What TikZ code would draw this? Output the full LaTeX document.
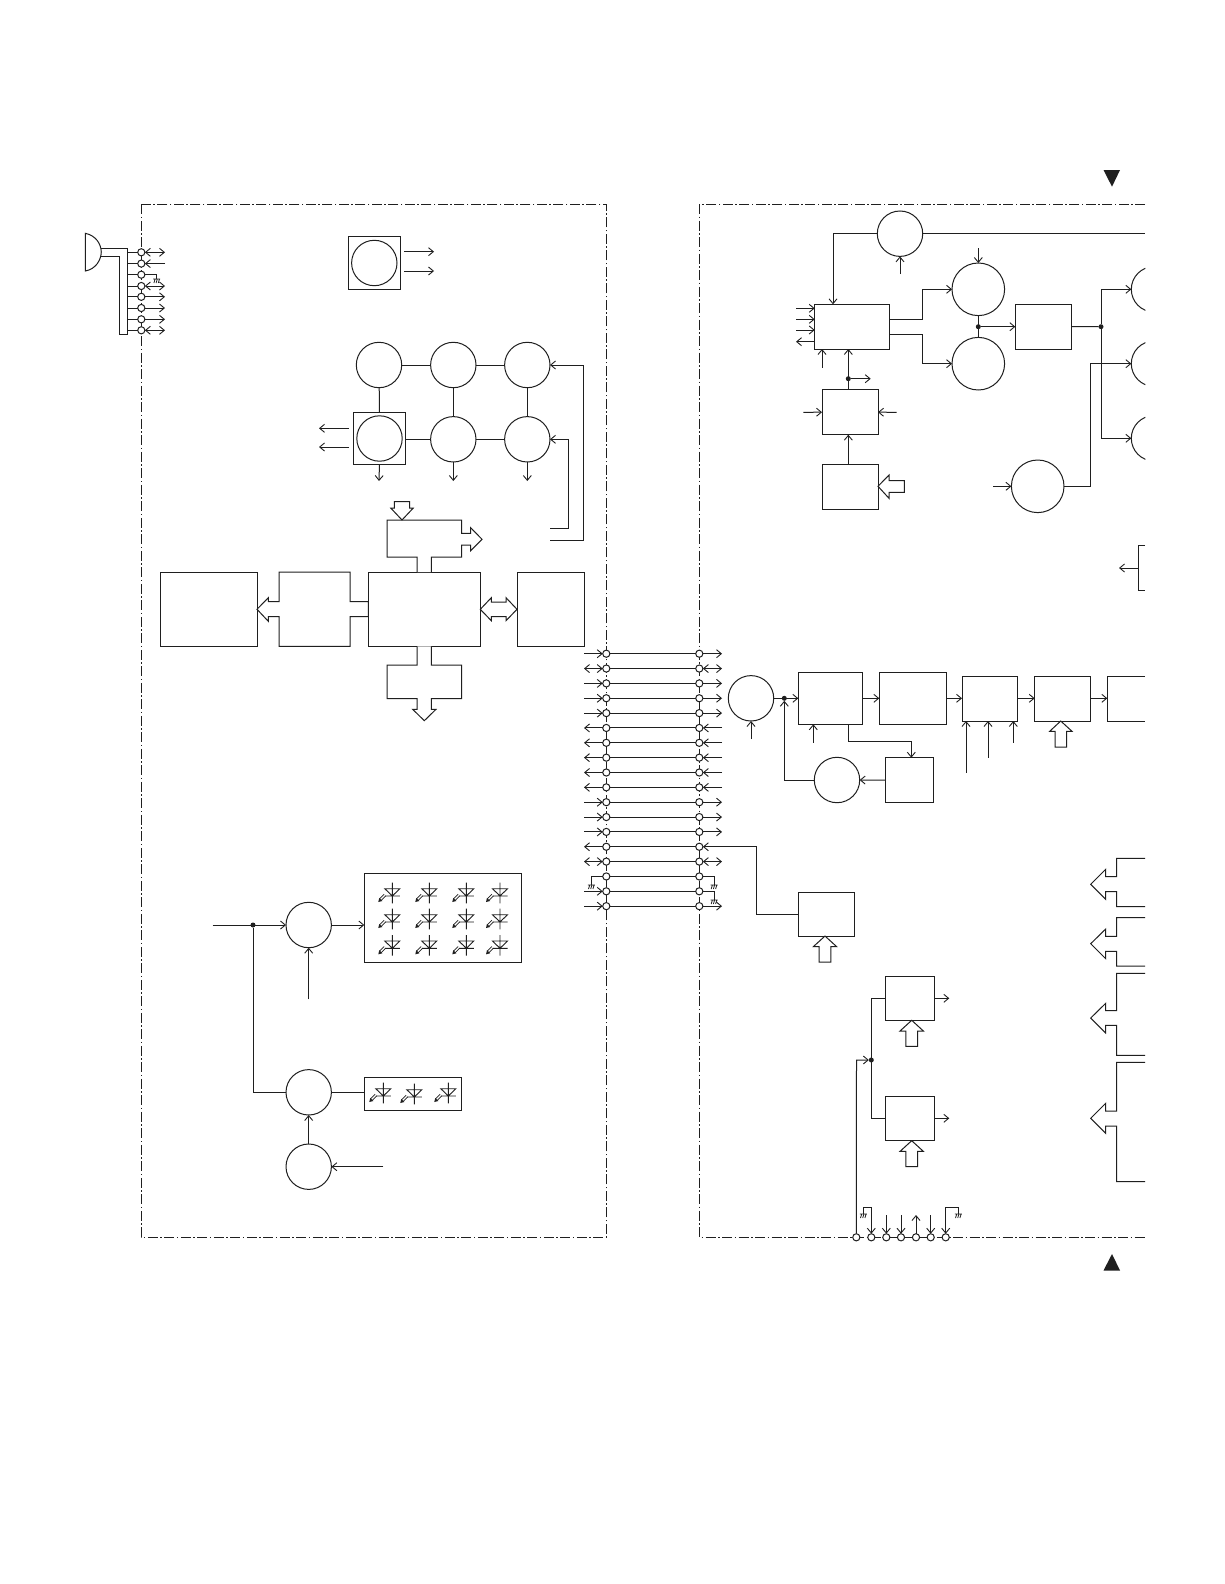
\documentclass[tikz,border=0pt]{standalone}
\usetikzlibrary{arrows.meta}
\definecolor{ink}{gray}{0.12}
\tikzset{
  >={Straight Barb[length=4.8pt,width=8pt,line width=.9pt]},
  circ/.style={circle,draw=ink,fill=white,inner sep=0pt,outer sep=0pt,minimum size=45.4pt},
  bigcirc/.style={circ,minimum size=52.6pt},
  boxs/.style={rectangle,draw=ink,fill=white,inner sep=0pt,outer sep=0pt},
  pin/.style={circle,draw=ink,fill=white,inner sep=0pt,outer sep=0pt,minimum size=7.2pt},
  jdot/.style={circle,fill=ink,draw=none,inner sep=0pt,outer sep=0pt,minimum size=5pt},
  framedash/.style={dash pattern=on 10pt off 2.5pt on 1.5pt off 2.5pt,line width=.9pt},
  blockarrow/.style={draw=ink,fill=white,line join=miter},
}
\newcommand{\bx}[5]{\node[boxs,minimum width={(#4-#2)*1pt},minimum height={(#5-#3)*1pt}] (#1) at ({(#2+#4)/2},{(#3+#5)/2}) {};}
\newcommand{\gnd}[2]{\draw[line width=.8pt] (#1-3.5,#2) -- (#1+3.5,#2) (#1-2.8,#2+4) -- (#1-1.6,#2) (#1-.6,#2+4) -- (#1+.6,#2) (#1+1.6,#2+4) -- (#1+2.8,#2);}
\newcommand{\led}[2]{%
  \draw[line width=.9pt] (#1,#2-13.3) -- (#1,#2+7.3) (#1-7.5,#2) -- (#1+7.5,#2)
    (#1-7.5,#2-7.3) -- (#1+7.5,#2-7.3) -- (#1,#2) -- cycle;
  \draw[line width=.7pt] (#1-6.5,#2-.2) -- (#1-11,#2+4.3) (#1-8.1,#2-1.8) -- (#1-12.6,#2+2.7);
  \fill[ink] (#1-14,#2+6) -- (#1-9.9,#2+5) -- (#1-13,#2+1.9) -- cycle;}
\newcommand{\blockup}[2]{%
  \draw[blockarrow] (#1,#2) -- (#1+11.7,#2+10.7) -- (#1+5.9,#2+10.7) -- (#1+5.9,#2+26) -- (#1-5.9,#2+26) -- (#1-5.9,#2+10.7) -- (#1-11.7,#2+10.7) -- cycle;}
\newcommand{\pinbrace}[7]{%
  \draw (1145,#1) -- (1116.7,#1) -- (1116.7,#2) -- (1105.7,#2) -- (1105.7,#3) -- (1090.7,#4) -- (1105.7,#5) -- (1105.7,#6) -- (1116.7,#6) -- (1116.7,#7) -- (1145,#7);}
\begin{document}
\begin{tikzpicture}[x=1pt,y=-1pt,line width=1pt,color=ink]
\useasboundingbox (0,0) rectangle (1224,1584);
\fill[white] (0,0) rectangle (1224,1584);
% frames
\draw[framedash] (141.3,204.3) rectangle (606.3,1237.3);
\draw[framedash] (1145,204.3) -- (699.3,204.3) -- (699.3,1237.3) -- (1145,1237.3);
% triangles
\fill[ink] (1103.5,170) -- (1120,170) -- (1112,186.7) -- cycle;
\fill[ink] (1103.5,1270.5) -- (1120,1270.5) -- (1112,1254) -- cycle;

% ---------- handset ----------
\draw[fill=white] (85.3,233.3) .. controls (96,235.5) and (101,244) .. (101.3,252) .. controls (101,260) and (96,269) .. (85.3,271) -- cycle;
\draw (101,248.3) -- (127,248.3) -- (127,334.3) -- (119.3,334.3) -- (119.3,256) -- (100.8,256);
\foreach \i/\yy in {0/252.3,1/263.6,2/274.7,3/286,4/296.8,5/308,6/319.3,7/330.3}{
  \coordinate (hs\i) at (127,\yy);
  \coordinate (hf\i) at (165,\yy);
  \node[pin] (H\i) at (141.3,\yy) {};
  \draw (hs\i) -- (H\i);
}
\foreach \i in {0,3,7}{\draw[<->] (H\i) -- (hf\i);}
\draw[->] (hf1) -- (H1);
\foreach \i in {4,5,6}{\draw[->] (H\i) -- (hf\i);}
\coordinate (hg) at (156.7,279);
\draw (H2) -| (hg);
\gnd{156.7}{279}

% ---------- top square with circle ----------
\bx{sqA}{348}{236.7}{400.7}{289.3}
\node[circ] (cA) at (374.3,263) {};
\coordinate (sa1) at (404,251.7); \coordinate (sa1f) at (434,251.7);
\coordinate (sa2) at (404,271);   \coordinate (sa2f) at (434,271);
\draw[->] (sa1) -- (sa1f);
\draw[->] (sa2) -- (sa2f);

% ---------- 2x3 circles ----------
\node[circ] (c11) at (379,365) {};
\node[circ] (c12) at (453.3,365) {};
\node[circ] (c13) at (527.3,365) {};
\bx{sqB}{353.3}{412.3}{405.6}{464.6}
\node[circ] (c21) at (379.5,438.5) {};
\node[circ] (c22) at (453.3,439.3) {};
\node[circ] (c23) at (527.3,439.3) {};
\draw (c11) -- (c12); \draw (c12) -- (c13);
\draw (c11) -- (sqB.north);
\draw (c12) -- (c22); \draw (c13) -- (c23);
\draw (sqB.east |- c22) -- (c22); \draw (c22) -- (c23);
\coordinate (d1) at (379,481); \coordinate (d2) at (453.3,481); \coordinate (d3) at (527.3,481);
\draw[->] (sqB.south) -- (d1);
\draw[->] (c22) -- (d2);
\draw[->] (c23) -- (d3);
\coordinate (l1) at (349,428.3); \coordinate (l1f) at (319,428.3);
\coordinate (l2) at (349,447);   \coordinate (l2f) at (319,447);
\draw[->] (l1) -- (l1f); \draw[->] (l2) -- (l2f);
\coordinate (f1) at (550,540); \coordinate (f1b) at (583.7,540);
\coordinate (f2) at (550,528.7); \coordinate (f2b) at (568.7,528.7);
\draw[->] (f1) -- (f1b) |- (c13.east);
\draw[->] (f2) -- (f2b) |- (c23.east);

% ---------- processor row ----------
\bx{bxA}{160}{572}{257}{646.3}
\draw[blockarrow] (257,609.3) -- (268.3,597.7) -- (268.3,601.7) -- (279,601.7) -- (279,572) -- (350,572) -- (350,601.7) -- (368.3,601.7)
  -- (368.3,616.7) -- (350,616.7) -- (350,646.3) -- (279,646.3) -- (279,616.7) -- (268.3,616.7) -- (268.3,621.3) -- cycle;
\bx{bxC}{368.3}{572}{480.3}{646.3}
\bx{bxD}{517}{572}{584.3}{646.3}
\draw[blockarrow] (417,572) -- (417,557) -- (387,557) -- (387,520) -- (461.7,520) -- (461.7,533.3) -- (470.7,533.3) -- (470.7,527.7) -- (482,539.3)
  -- (470.7,550.7) -- (470.7,545) -- (461.7,545) -- (461.7,557) -- (431.3,557) -- (431.3,572);
\draw[blockarrow] (402,520) -- (390.7,508) -- (394.3,508) -- (394.3,501.7) -- (409.7,501.7) -- (409.7,508) -- (413.3,508) -- cycle;
\draw[blockarrow] (417,646.3) -- (417,665) -- (387,665) -- (387,698.7) -- (417,698.7) -- (417,709.3) -- (412.7,709.3) -- (424.3,720.7) -- (436,709.3)
  -- (431.3,709.3) -- (431.3,698.7) -- (461.7,698.7) -- (461.7,665) -- (431.3,665) -- (431.3,646.3);
\draw[blockarrow] (480.3,609.3) -- (491.3,597.7) -- (491.3,602) -- (506,602) -- (506,597.7) -- (517,609.3) -- (506,620.7) -- (506,616.7) -- (491.3,616.7) -- (491.3,620.7) -- cycle;

% ---------- LED drivers ----------
\node[circ] (dr1) at (308.7,925) {};
\node[circ] (dr2) at (308.7,1092.3) {};
\node[circ] (dr3) at (308.7,1166.7) {};
\bx{ledA}{364.3}{873}{521}{962.3}
\bx{ledB}{364.3}{1077.7}{461.3}{1110.7}
\foreach \xx in {392.3,429.3,466.3,500}{\foreach \yy in {896,922,948.3}{\led{\xx}{\yy}}}
\led{383.3}{1096}\led{414.3}{1097}\led{448.3}{1096}
\coordinate (vin) at (212.7,925);
\node[jdot] (vd) at (253,925) {};
\draw[->] (vin) -- (dr1.west);
\draw (vd) |- (dr2.west);
\draw[->] (dr1.east) -- (ledA.west |- dr1);
\draw (dr2.east) -- (ledB.west |- dr2);
\coordinate (u1) at (308.7,999.3);
\draw[->] (u1) -- (dr1.south);
\draw[->] (dr3.north) -- (dr2.south);
\coordinate (u3) at (383.3,1166.7);
\draw[->] (u3) -- (dr3.east);

% ---------- connector bus ----------
\foreach \i in {0,...,17}{
  \pgfmathsetmacro{\yy}{653.7+14.85*\i}
  \node[pin] (L\i) at (606.3,\yy) {};
  \node[pin] (R\i) at (699.3,\yy) {};
  \coordinate (Lf\i) at (584,\yy);
  \coordinate (Rf\i) at (722,\yy);
  \draw (L\i) -- (R\i);
}
\foreach \i in {0,2,3,4,10,11,12,17}{\draw[->] (Lf\i) -- (L\i); \draw[->] (R\i) -- (Rf\i);}
\foreach \i in {1,14}{\draw[<->] (Lf\i) -- (L\i); \draw[<->] (R\i) -- (Rf\i);}
\foreach \i in {5,...,9}{\draw[->] (L\i) -- (Lf\i); \draw[->] (Rf\i) -- (R\i);}
\draw[->] (L13) -- (Lf13);
\draw[->] (Lf16) -- (L16);
\coordinate (gl) at (591.3,885); \draw (L15) -| (gl); \gnd{591.3}{885}
\coordinate (gr) at (714,885);   \draw (R15) -| (gr); \gnd{714}{885}
\coordinate (gs) at (714,900);   \draw (R16) -| (gs); \gnd{714}{900}

% ---------- right: box M ----------
\bx{bxM}{798.7}{892}{854.3}{936}
\coordinate (mb) at (756,914);
\draw[->] (mb -| bxM.west) -- (mb) |- (R13.east);
\blockup{825}{936}

% ---------- upper right ----------
\node[circ] (tc) at (900,233.7) {};
\bx{bxE}{814.7}{304.3}{889.3}{349}
\bx{bxF}{822}{389.7}{878}{434.7}
\bx{bxG}{822}{464.3}{878}{509}
\node[bigcirc] (u1c) at (978.3,289.3) {};
\node[bigcirc] (u2c) at (978.3,363.7) {};
\bx{bxH}{1015.3}{304.3}{1071.3}{349}
\node[bigcirc] (u3c) at (1037.7,486.3) {};
\coordinate (te) at (1145,233.7);
\draw (tc) -- (te);
\coordinate (tb) at (833,233.7);
\draw[->] (tc.west) -- (tb) -- (tb |- bxE.north);
\coordinate (tu) at (900,274);
\draw[->] (tu) -- (tc.south);
\foreach \i/\yy in {1/308.3,2/319.3,3/330}{\coordinate (ei\i) at (796,\yy); \draw[->] (ei\i) -- (ei\i -| bxE.west);}
\coordinate (eo) at (796,341.7); \draw[->] (eo -| bxE.west) -- (eo);
\coordinate (eu) at (822,367.7); \draw[->] (eu) -- (eu |- bxE.south);
\node[jdot] (fd) at (848.3,378.7) {};
\draw[->] (bxF.north -| fd) -- (fd |- bxE.south);
\coordinate (fdo) at (870.7,378.7); \draw[->] (fd) -- (fdo);
\coordinate (fl) at (803.3,412.3); \draw[->] (fl) -- (bxF.west);
\coordinate (fr) at (896.7,412.3); \draw[->] (fr) -- (bxF.east);
\draw[->] (bxG.north -| fd) -- (bxF.south -| fd);
\draw[blockarrow] (878,486.3) -- (889,475) -- (889,480.7) -- (904.3,480.7) -- (904.3,492.3) -- (889,492.3) -- (889,498.3) -- cycle;
\coordinate (ut) at (978.3,248); \draw[->] (ut) -- (u1c.north);
\coordinate (a1) at (922.7,319.3); \coordinate (a2) at (922.7,334);
\draw[->] (a1 -| bxE.east) -- (a1) |- (u1c.west);
\draw[->] (a2 -| bxE.east) -- (a2) |- (u2c.west);
\node[jdot] (ud) at (978.3,326.7) {};
\draw (u1c) -- (u2c);
\draw[->] (ud) -- (ud -| bxH.west);
\begin{scope}
\clip (1100,200) rectangle (1145.4,500);
\node[circ] (p1) at (1154,289.3) {};
\node[circ] (p2) at (1154,363.7) {};
\node[circ] (p3) at (1154,438.3) {};
\end{scope}
\node[jdot] (hd) at (1101,326.7) {};
\draw (bxH.east) -- (hd);
\draw[->] (hd) |- (p1.west);
\draw[->] (hd) |- (p3.west);
\coordinate (ci) at (993.3,486.3); \draw[->] (ci) -- (u3c.west);
\coordinate (co) at (1090,486.3);
\draw[->] (u3c.east) -- (co) |- (p2.west);
\draw (1145,545.5) -- (1138,545.5) -- (1138,590) -- (1145,590);
\coordinate (q) at (1138,568); \coordinate (qf) at (1119,568);
\draw[->] (q) -- (qf);

% ---------- middle right chain ----------
\node[circ] (mc) at (751,698.3) {};
\bx{bxI}{798.3}{672.3}{862.7}{724.3}
\bx{bxJ}{879.3}{672.3}{946.7}{724.3}
\bx{bxK}{962}{676}{1017.7}{721}
\bx{bxL}{1034.7}{676}{1090.7}{721}
\draw (1145,676) -- (1107.3,676) -- (1107.3,721) -- (1145,721);
\coordinate (jl) at (1107.3,698.3);
\node[jdot] (md) at (784.3,698.3) {};
\draw[->] (mc.east) -- (mc.east -| bxI.west);
\coordinate (mu) at (751,739); \draw[->] (mu) -- (mc.south);
\draw[->] (bxI.east) -- (bxJ.west);
\draw[->] (bxJ.east) -- (bxK.west |- bxJ.east);
\draw[->] (bxK.east |- bxJ.east) -- (bxL.west |- bxJ.east);
\draw[->] (bxL.east |- bxJ.east) -- (jl);
\coordinate (iu) at (813.3,742.7); \draw[->] (iu) -- (iu |- bxI.south);
\coordinate (k1) at (966,772.7); \coordinate (k2) at (988,757.7); \coordinate (k3) at (1013.3,742.7);
\draw[->] (k1) -- (k1 |- bxK.south);
\draw[->] (k2) -- (k2 |- bxK.south);
\draw[->] (k3) -- (k3 |- bxK.south);
\draw[blockarrow] (1060.7,721) -- (1072,731.3) -- (1066.7,731.3) -- (1066.7,747) -- (1055,747) -- (1055,731.3) -- (1049.7,731.3) -- cycle;
\bx{bxN}{885.3}{757.7}{933.3}{802.7}
\node[circ] (lc) at (837,780) {};
\coordinate (ib) at (848,741);
\coordinate (ibr) at (911.3,741);
\draw[->] (ib |- bxI.south) -- (ib) -- (ibr) -- (ibr |- bxN.north);
\draw[->] (bxN.west) -- (lc.east);
\coordinate (lb) at (784.3,780);
\draw[->] (lc.west) -- (lb) -- (md.south);

% ---------- lower right ----------
\bx{bxO}{885.3}{976}{934}{1020.3}
\bx{bxP}{885.3}{1096.3}{934}{1140.7}
\coordinate (oa) at (949.3,998.3); \draw[->] (oa -| bxO.east) -- (oa);
\coordinate (pa) at (949.3,1118.3); \draw[->] (pa -| bxP.east) -- (pa);
\blockup{911.7}{1020.3}
\blockup{911.7}{1140.7}
\node[jdot] (ld) at (871.3,1060) {};
\coordinate (lt) at (871.3,998.3); \coordinate (lbb) at (871.3,1118.3);
\draw (lt -| bxO.west) -- (lt) -- (lbb) -- (lbb -| bxP.west);

\pinbrace{858.3}{876.7}{869.3}{884.3}{899.3}{891.7}{906.7}
\pinbrace{917.7}{936.3}{929}{943.7}{958.7}{951.3}{966}
\pinbrace{973.3}{1010.7}{1003.3}{1018}{1033}{1025.3}{1055.3}
\pinbrace{1062.3}{1111}{1103.3}{1118.3}{1133.3}{1126}{1181.7}

% ---------- bottom pins ----------
\foreach \i/\xx in {0/856.3,1/871.3,2/886.3,3/901,4/916,5/930.7,6/945.7}{
  \node[pin] (B\i) at (\xx,1237.3) {};
  \coordinate (Bf\i) at (\xx,1215);
}
\coordinate (b0t) at (856.5,1060);
\draw[->] (B0) -- (b0t) -- (ld.west);
\coordinate (g1a) at (871.3,1207.3); \coordinate (g1b) at (863.3,1207.3); \coordinate (g1c) at (863.3,1214);
\draw[->] (g1c) -- (g1b) -- (g1a) -- (B1);
\gnd{863.3}{1214}
\draw[->] (Bf2) -- (B2);
\draw[->] (Bf3) -- (B3);
\draw[->] (B4) -- (Bf4);
\draw[->] (Bf5) -- (B5);
\coordinate (g6a) at (945.7,1207.3); \coordinate (g6b) at (958.3,1207.3); \coordinate (g6c) at (958.3,1214);
\draw[->] (g6c) -- (g6b) -- (g6a) -- (B6);
\gnd{958.3}{1214}
\end{tikzpicture}
\end{document}
